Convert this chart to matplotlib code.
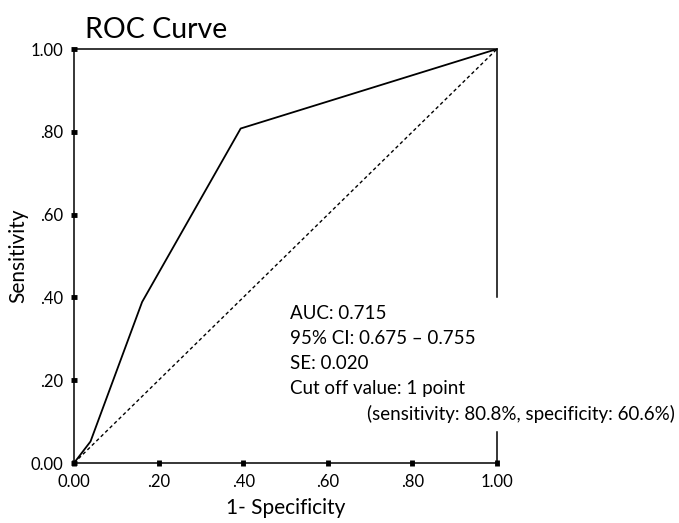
import matplotlib
matplotlib.use("Agg")
import matplotlib.pyplot as plt

# ROC points (1 - specificity, sensitivity)
fpr = [0.0, 0.039, 0.161, 0.394, 1.0]
tpr = [0.0, 0.052, 0.389, 0.808, 1.0]
ref = [0.0, 1.0]
ticks = [0.0, 0.2, 0.4, 0.6, 0.8, 1.0]
tick_labels = ["0.00", ".20", ".40", ".60", ".80", "1.00"]
stats = ["AUC: 0.715", "95% CI: 0.675 \u2013 0.755", "SE: 0.020", "Cut off value: 1 point"]
cutoff_note = "(sensitivity: 80.8%, specificity: 60.6%)"

plt.rcParams['font.family'] = ['Lato', 'DejaVu Sans']

fig = plt.figure(figsize=(6.79, 5.23), dpi=100)
ax = fig.add_axes([0.109, 0.1147, 0.623, 0.7916])

ax.plot(fpr, tpr, color='black', lw=1.3, zorder=3)
ax.plot(ref, ref, color='black', lw=1.0, ls=(0, (2.5, 2)), zorder=2)

ax.set_xlim(0, 1)
ax.set_ylim(0, 1)
ax.set_xticks(ticks)
ax.set_xticklabels(tick_labels)
ax.set_yticks(ticks)
ax.set_yticklabels(tick_labels)
ax.tick_params(direction='inout', length=4, width=3.5, labelsize=12, pad=6)
for s in ax.spines.values():
    s.set_linewidth(1.1)

# right frame line is broken where the text runs across it
ax.spines['right'].set_visible(False)
ax.axvline(1.0, ymin=0.40, ymax=1.0, color='black', lw=1.1, clip_on=False)
ax.axvline(1.0, ymin=0.0, ymax=0.075, color='black', lw=1.1, clip_on=False)

ax.set_xlabel("1- Specificity", fontsize=15)
ax.set_ylabel("Sensitivity", fontsize=15)
ax.xaxis.set_label_coords(0.5, -0.109)
ax.yaxis.set_label_coords(-0.132, 0.5)
ax.xaxis.label.set_va('center')
ax.yaxis.label.set_va('center')

fig.text(0.125, 0.942, "ROC Curve", fontsize=20.5, ha='left', va='center')

y0 = 0.36
for i, line in enumerate(stats):
    ax.text(0.511, y0 - i * 0.0604, line, fontsize=13.5, ha='left', va='center',
            transform=ax.transAxes)
fig.text(0.994, 0.208, cutoff_note, fontsize=13.5, ha='right', va='center')

fig.savefig("out.png", dpi=100)
